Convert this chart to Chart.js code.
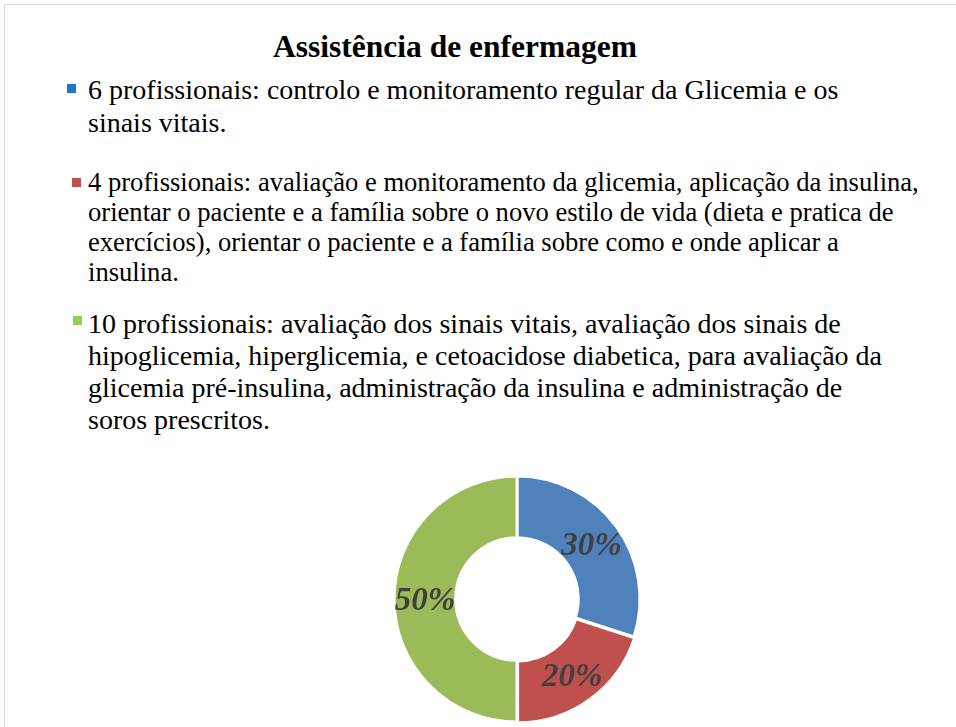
<!DOCTYPE html>
<html>
<head>
<meta charset="utf-8">
<script src="https://cdn.jsdelivr.net/npm/chart.js@4"></script>
<style>
  html, body { margin: 0; padding: 0; background: #fff; }
  body { width: 956px; height: 727px; overflow: hidden; position: relative; font-family: "Liberation Serif", "Times New Roman", serif; color: #000; }
  .frame { position: absolute; left: 4px; top: 4px; width: 1200px; height: 1200px; border: 1px solid #d9d9d9; }
  .title { position: absolute; left: 0; width: 910px; top: 29px; text-align: center; font-weight: bold; font-size: 31.5px; line-height: 36px; }
  .entry { position: absolute; left: 88px; white-space: nowrap; }
  .mark { position: absolute; width: 9px; height: 9px; }
  .wrap { position: absolute; left: 387px; top: 469px; width: 260px; height: 260px; }
</style>
</head>
<body>
<div class="frame"></div>
<div class="title" id="title"></div>
<div id="legend"></div>
<div class="wrap"><canvas id="chart"></canvas></div>
<script>
const chartTitle = 'Assistência de enfermagem';
const categories = [
  ['6 profissionais: controlo e monitoramento regular da Glicemia e os', 'sinais vitais.'],
  ['4 profissionais: avaliação e monitoramento da glicemia, aplicação da insulina,',
   'orientar o paciente e a família sobre o novo estilo de vida (dieta e pratica de',
   'exercícios), orientar o paciente e a família sobre como e onde aplicar a',
   'insulina.'],
  ['10 profissionais: avaliação dos sinais vitais, avaliação dos sinais de',
   'hipoglicemia, hiperglicemia, e cetoacidose diabetica, para avaliação da',
   'glicemia pré-insulina, administração da insulina e administração de',
   'soros prescritos.']
];
const professionals = [6, 4, 10];
const percentLabels = ['30%', '20%', '50%'];
const sliceColors = ['#4F81BD', '#C0504D', '#9BBB59'];
const markerColors = ['#1F75C8', '#C0504D', '#92D050'];

// legend layout: top of block, font size, line height, marker left/top
const legendLayout = [
  { top: 73, size: 28, lh: 33, mx: 67, my: 84 },
  { top: 167, size: 26.6, lh: 30, mx: 72, my: 178 },
  { top: 308, size: 28, lh: 32, mx: 73, my: 316 }
];

document.getElementById('title').textContent = chartTitle;
const legendEl = document.getElementById('legend');
categories.forEach((lines, i) => {
  const l = legendLayout[i];
  const m = document.createElement('div');
  m.className = 'mark';
  m.style.left = l.mx + 'px';
  m.style.top = l.my + 'px';
  m.style.background = markerColors[i];
  legendEl.appendChild(m);
  const e = document.createElement('div');
  e.className = 'entry';
  e.style.top = l.top + 'px';
  e.style.fontSize = l.size + 'px';
  e.style.lineHeight = l.lh + 'px';
  lines.forEach(t => {
    const d = document.createElement('div');
    d.textContent = t;
    e.appendChild(d);
  });
  legendEl.appendChild(e);
});

const pctPlugin = {
  id: 'pctLabels',
  afterDatasetsDraw(chart) {
    const ctx = chart.ctx;
    const meta = chart.getDatasetMeta(0);
    ctx.save();
    ctx.font = 'italic bold 33px "Liberation Serif", serif';
    ctx.fillStyle = '#404040';
    ctx.textAlign = 'center';
    ctx.textBaseline = 'middle';
    meta.data.forEach((arc, i) => {
      const p = arc.tooltipPosition();
      ctx.fillText(percentLabels[i], p.x, p.y + 2);
    });
    ctx.restore();
  }
};

new Chart(document.getElementById('chart').getContext('2d'), {
  type: 'doughnut',
  data: {
    labels: categories.map(c => c.join(' ')),
    datasets: [{
      data: professionals,
      backgroundColor: sliceColors,
      borderColor: '#ffffff',
      borderWidth: 3,
      offset: [0, 4, 0],
      radius: 123,
      cutout: 63
    }]
  },
  options: {
    responsive: true,
    maintainAspectRatio: false,
    animation: false,
    layout: { padding: 0 },
    plugins: {
      legend: { display: false },
      tooltip: { enabled: false }
    }
  },
  plugins: [pctPlugin]
});
</script>
</body>
</html>
